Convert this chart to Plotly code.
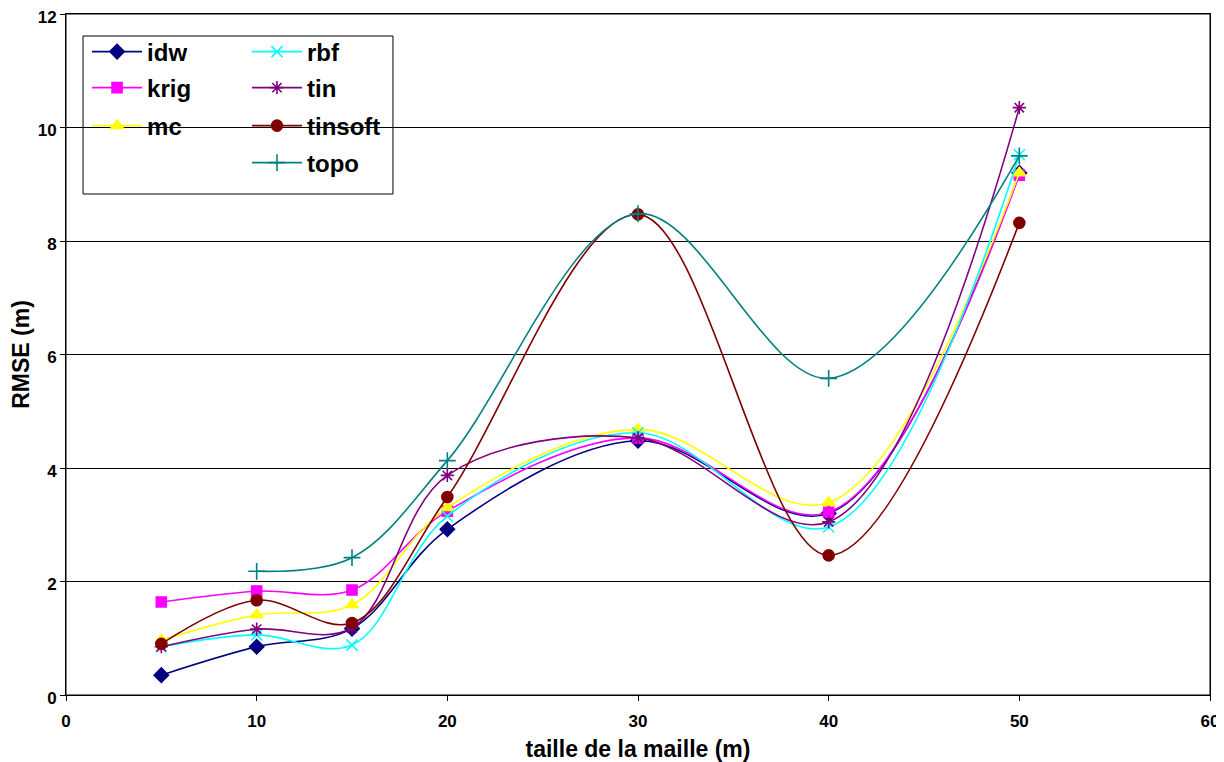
import plotly.graph_objects as go

x_vals = [5, 10, 15, 20, 30, 40, 50]

idw = [0.35, 0.85, 1.17, 2.92, 4.48, 3.20, 9.20]
krig = [1.64, 1.83, 1.85, 3.24, 4.53, 3.22, 9.16]
mc = [0.97, 1.41, 1.59, 3.30, 4.68, 3.39, 9.20]
rbf = [0.85, 1.06, 0.88, 3.15, 4.62, 2.96, 9.52]
tin = [0.85, 1.16, 1.18, 3.87, 4.53, 3.05, 10.35]
tinsoft = [0.90, 1.67, 1.27, 3.49, 8.47, 2.46, 8.32]
topo = [None, 2.18, 2.42, 4.13, 8.48, 5.58, 9.50]

y_ticks = [0, 2, 4, 6, 8, 10, 12]
x_ticks = [0, 10, 20, 30, 40, 50, 60]

FONT = "Liberation Sans"

# name, values, colour, symbol, size, legend column, legend row
series = [
    ("idw", idw, "#000080", "diamond", 11, 0, 0),
    ("krig", krig, "#FF00FF", "square", 10, 0, 1),
    ("mc", mc, "#FFFF00", "triangle-up", 11, 0, 2),
    ("rbf", rbf, "#00FFFF", "x-thin-open", 11, 1, 0),
    ("tin", tin, "#800080", "asterisk-open", 11, 1, 1),
    ("tinsoft", tinsoft, "#800000", "circle", 11, 1, 2),
    ("topo", topo, "#008080", "cross-thin-open", 12, 1, 3),
]

col_x = [0.0184, 0.1582]
row_y = [0.9442, 0.8913, 0.8355, 0.7812]

fig = go.Figure()
legends = {}
for i, (name, vals, color, sym, size, col, row) in enumerate(series):
    leg = "legend" if i == 0 else f"legend{i+1}"
    fig.add_trace(go.Scatter(
        x=x_vals, y=vals, name=name, mode="lines+markers",
        line=dict(color=color, width=1.6, shape="spline", smoothing=1),
        marker=dict(symbol=sym, size=size, color=color,
                    line=dict(color=color, width=1.6)),
        legend=leg, showlegend=True,
    ))
    legends[leg] = dict(
        x=col_x[col], y=row_y[row], xanchor="left", yanchor="middle",
        bgcolor="rgba(0,0,0,0)", borderwidth=0,
        font=dict(family=FONT, size=24, color="black", weight="bold"),
        itemwidth=50,
    )

fig.update_layout(
    width=1216, height=754,
    showlegend=True,
    paper_bgcolor="white", plot_bgcolor="white",
    margin=dict(l=58, r=14, t=6, b=67),
    font=dict(family=FONT, color="black"),
    xaxis=dict(
        range=[0, 60], tickvals=x_ticks, ticktext=[str(v) for v in x_ticks],
        showgrid=False, zeroline=False, automargin=False,
        showline=True, linecolor="black", linewidth=1, mirror=True,
        ticks="outside", ticklen=5, tickcolor="black",
        ticklabelstandoff=6, ticklabeloverflow="allow",
        tickfont=dict(family=FONT, size=17, weight="bold"),
        title=dict(text="taille de la maille (m)",
                   font=dict(family=FONT, size=23, weight="bold"), standoff=14),
    ),
    yaxis=dict(
        range=[0, 12], tickvals=y_ticks, ticktext=[str(v) for v in y_ticks],
        showgrid=True, gridcolor="black", gridwidth=1, zeroline=False,
        automargin=False, ticklabeloverflow="allow", ticklabelshift=3,
        showline=True, linecolor="black", linewidth=1, mirror=True,
        ticks="outside", ticklen=5, tickcolor="black",
        tickfont=dict(family=FONT, size=17, weight="bold"),
        title=dict(text="RMSE (m)",
                   font=dict(family=FONT, size=23, weight="bold"), standoff=1),
    ),
    shapes=[
        dict(type="rect", xref="paper", yref="paper",
             x0=0, x1=1, y0=0, y1=1,
             line=dict(color="black", width=1), fillcolor="rgba(0,0,0,0)",
             layer="above"),
        dict(type="rect", xref="paper", yref="paper",
             x0=0.0149, x1=0.2858, y0=0.7357, y1=0.9677,
             line=dict(color="black", width=1), fillcolor="white",
             layer="below"),
    ],
    **legends,
)

fig.write_html("out.html")
